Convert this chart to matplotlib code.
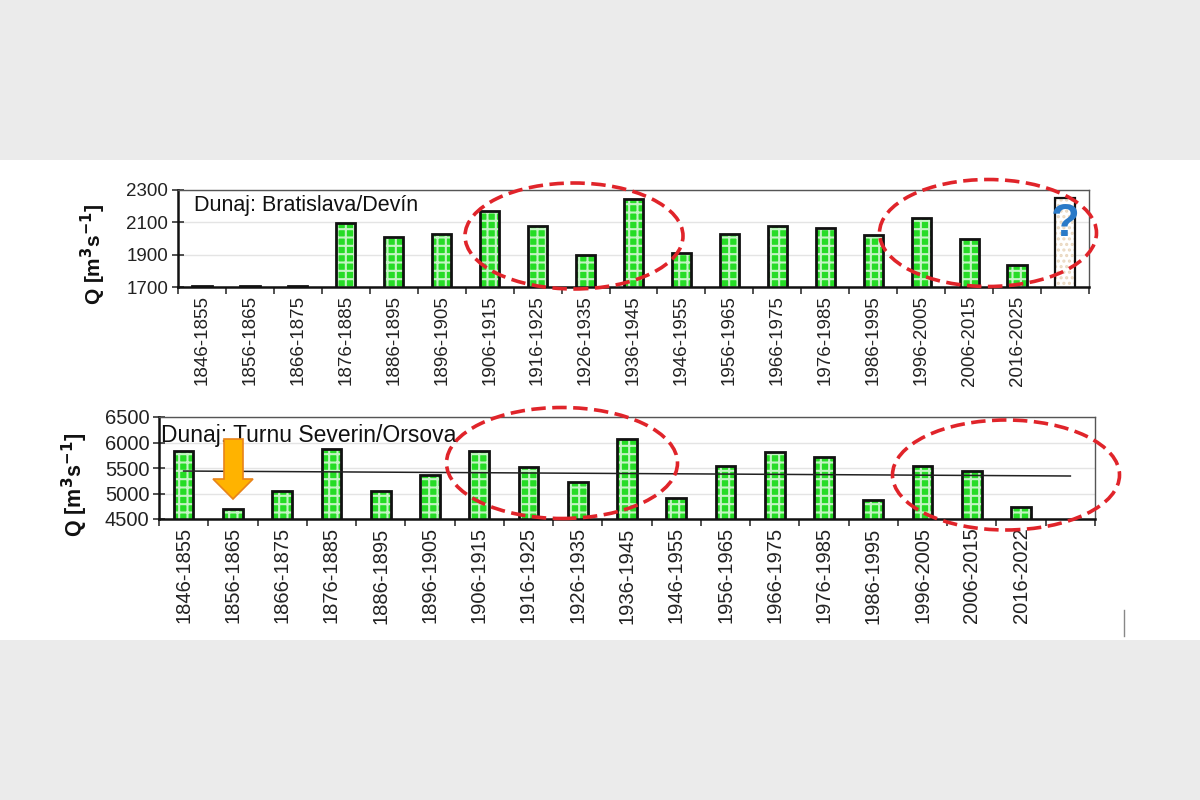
import numpy as np
import matplotlib
matplotlib.use("Agg")
import matplotlib.pyplot as plt
from matplotlib.patches import Ellipse, Rectangle, Polygon
from matplotlib.lines import Line2D

# ---------------- data ----------------
periods_top = ["1846-1855", "1856-1865", "1866-1875", "1876-1885", "1886-1895",
               "1896-1905", "1906-1915", "1916-1925", "1926-1935", "1936-1945",
               "1946-1955", "1956-1965", "1966-1975", "1976-1985", "1986-1995",
               "1996-2005", "2006-2015", "2016-2025"]
q_top = [1705, 1705, 1705, 2095, 2010, 2030, 2170, 2080, 1900, 2245,
         1910, 2030, 2080, 2065, 2020, 2125, 2000, 1835]
q_top_unknown = 2250

periods_bottom = ["1846-1855", "1856-1865", "1866-1875", "1876-1885", "1886-1895",
                  "1896-1905", "1906-1915", "1916-1925", "1926-1935", "1936-1945",
                  "1946-1955", "1956-1965", "1966-1975", "1976-1985", "1986-1995",
                  "1996-2005", "2006-2015", "2016-2022"]
q_bottom = [5840, 4690, 5050, 5870, 5050, 5370, 5830, 5510, 5230, 6070,
            4920, 5530, 5820, 5720, 4880, 5540, 5450, 4730]

title_top = "Dunaj: Bratislava/Devín"
title_bottom = "Dunaj: Turnu Severin/Orsova"
ylabel = r"Q [m$^\mathbf{3}$s$^\mathbf{-1}$]"

# ---------------- style ----------------
plt.rcParams['font.family'] = ['Liberation Sans', 'DejaVu Sans']
plt.rcParams['hatch.linewidth'] = 1.5
W, H = 1200, 800
N_SLOTS = 19
GREEN = '#26dc26'
PALE = '#c4f4c4'


def fx(px):
    return px / W


def fy(py):
    return 1 - py / H


fig = plt.figure(figsize=(12, 8), dpi=100, facecolor='#ebebeb')
fig.add_artist(Rectangle((0, fy(640)), 1, fy(160) - fy(640), transform=fig.transFigure,
                         facecolor='white', edgecolor='none', zorder=-5))


def make_axes(l, t, r, b):
    return fig.add_axes([fx(l), fy(b), fx(r) - fx(l), fy(t) - fy(b)])


def setup(ax, labels, ymin, ymax, step, fs):
    ax.set_xlim(-0.5, N_SLOTS - 0.5)
    ax.set_ylim(ymin, ymax)
    ax.set_yticks(np.arange(ymin, ymax + 1, step))
    ax.set_xticks(np.arange(-0.5, N_SLOTS, 1))
    ax.set_xticklabels([])
    ax.set_xticks(np.arange(N_SLOTS), minor=True)
    ax.set_xticklabels(list(labels) + [""] * (N_SLOTS - len(labels)), minor=True,
                       rotation=90, fontsize=fs, color='#222')
    ax.tick_params(axis='x', which='minor', length=0, pad=6)
    ax.tick_params(axis='x', which='major', length=5, width=1.2, direction='out',
                   color='#333')
    ax.tick_params(axis='y', direction='inout', length=8, width=1.2, labelsize=fs,
                   pad=3, color='#333', labelcolor='#222')
    ax.yaxis.grid(True, color='#e4e4e4', lw=1)
    ax.set_axisbelow(True)
    for s in ['left', 'bottom']:
        ax.spines[s].set_linewidth(1.8)
        ax.spines[s].set_color('#111')
    for s in ['top', 'right']:
        ax.spines[s].set_linewidth(1.0)
        ax.spines[s].set_color('#555')


def green_bars(ax, vals):
    x = np.arange(len(vals))
    ax.bar(x, vals, width=0.4, color=GREEN, edgecolor=PALE, hatch='++',
           linewidth=0, zorder=2)
    ax.bar(x, vals, width=0.4, facecolor='none', edgecolor='#111', linewidth=2.0,
           zorder=3)


# ---------------- top panel ----------------
ax1 = make_axes(178, 190, 1089, 287)
setup(ax1, periods_top, 1700, 2300, 200, 13.5)
green_bars(ax1, q_top)
ax1.bar([len(q_top)], [q_top_unknown], width=0.4, color='white', edgecolor='#ead8c0',
        hatch='...', linewidth=0, zorder=2)
ax1.bar([len(q_top)], [q_top_unknown], width=0.4, facecolor='none', edgecolor='#111',
        linewidth=1.6, zorder=3)
ax1.text(0.018, 0.84, title_top, transform=ax1.transAxes, fontsize=15.5,
         ha='left', va='center', color='#111')
fig.text(fx(93), fy(254), ylabel, rotation=90, ha='center', va='center',
         fontsize=15, fontweight='bold', color='#111')
fig.text(fx(1065), fy(224), "?", ha='center', va='center', fontsize=34,
         fontweight='bold', color='#2a7ac8', zorder=6)

# ---------------- bottom panel ----------------
ax2 = make_axes(159, 417, 1095, 519)
setup(ax2, periods_bottom, 4500, 6500, 500, 14.5)
green_bars(ax2, q_bottom)
xb = np.arange(len(q_bottom))
coef = np.polyfit(xb, q_bottom, 1)
xt = np.arange(N_SLOTS)
ax2.plot(xt, np.polyval(coef, xt), color='#222', lw=1.1, zorder=4)
ax2.text(0.002, 0.82, title_bottom, transform=ax2.transAxes, fontsize=16.5,
         ha='left', va='center', color='#111', zorder=5)
fig.text(fx(75), fy(485), ylabel, rotation=90, ha='center', va='center',
         fontsize=15.5, fontweight='bold', color='#111')

# ---------------- annotations ----------------
RED = '#e0242a'
for cx, cy, w, h in [(574, 236, 218, 106), (988, 233, 217, 107),
                     (562, 463, 231, 111), (1006, 475, 227, 110)]:
    fig.add_artist(Ellipse((fx(cx), fy(cy)), w / W, h / H, transform=fig.transFigure,
                           fill=False, edgecolor=RED, lw=2.6,
                           linestyle=(0, (4, 1.8)), zorder=10))

arrow_px = [(224, 439), (243, 439), (243, 479), (253, 479), (233, 499),
            (213, 479), (224, 479)]
fig.add_artist(Polygon([(fx(a), fy(b)) for a, b in arrow_px], closed=True,
                       transform=fig.transFigure, facecolor='#ffb300',
                       edgecolor='#e8841a', lw=1.2, zorder=11))

fig.add_artist(Line2D([fx(1124), fx(1124)], [fy(610), fy(636)], transform=fig.transFigure,
                      color='#888', lw=1))

fig.savefig("out.png", dpi=100, facecolor=fig.get_facecolor())
